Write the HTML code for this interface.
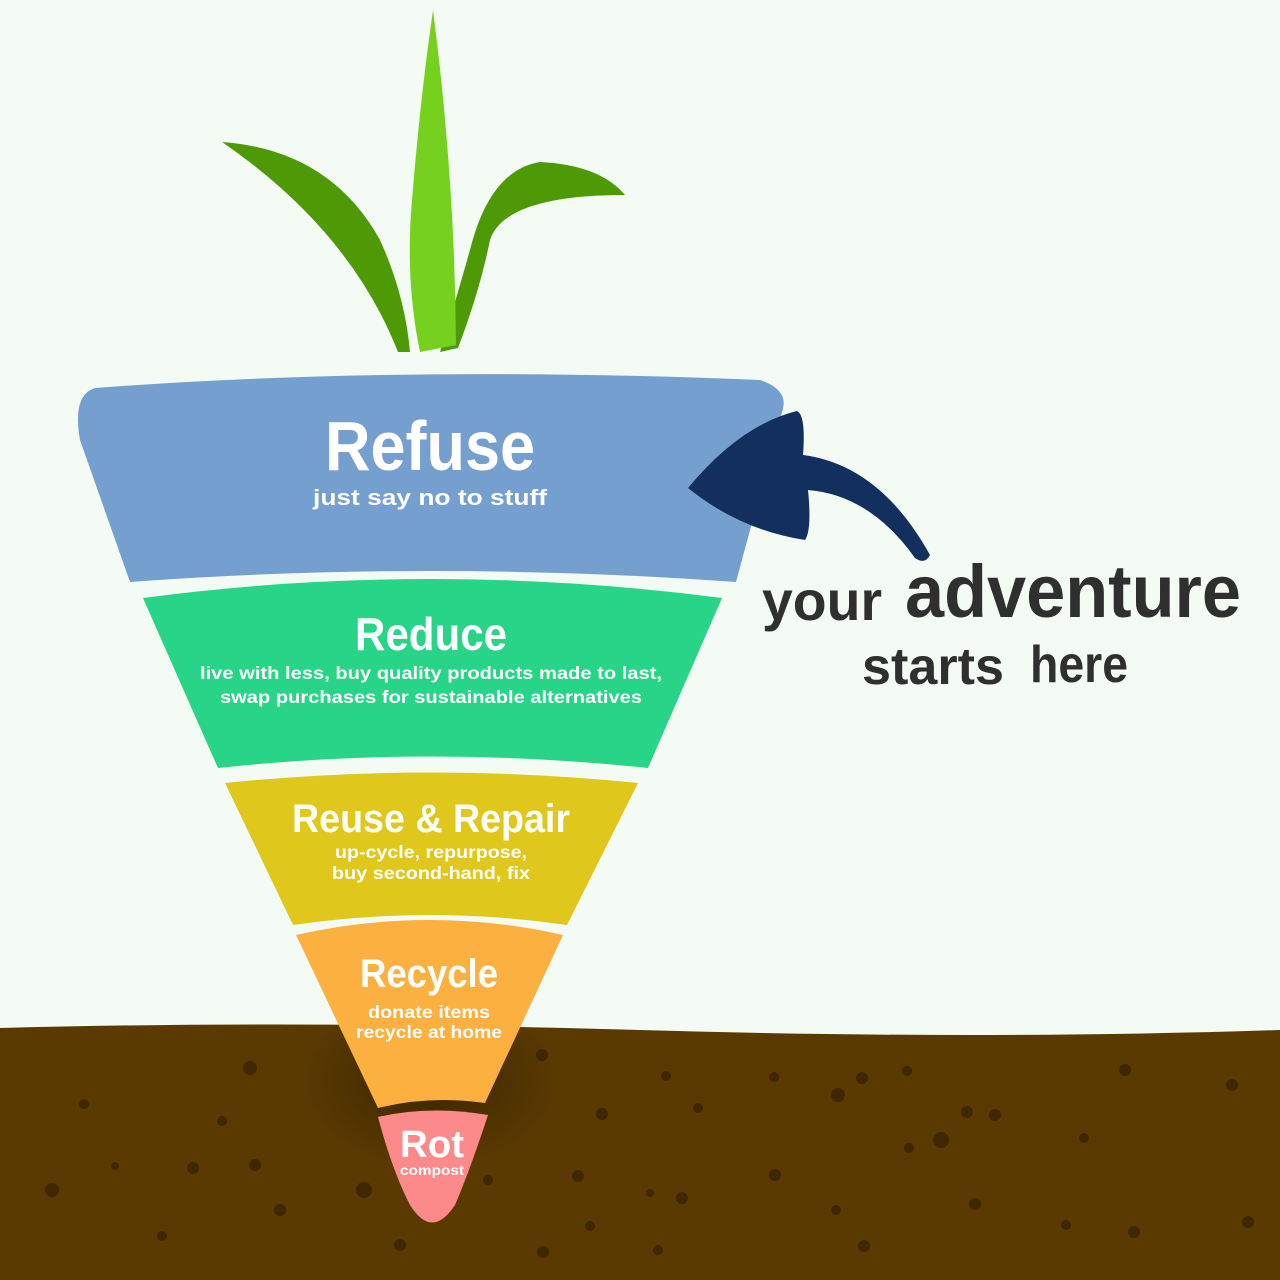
<!DOCTYPE html>
<html><head><style>
html,body{margin:0;padding:0;width:1280px;height:1280px;overflow:hidden;background:#f3fbf4}
svg{display:block}
.t{font-family:"Liberation Sans",sans-serif;fill:#fff;font-weight:bold;text-anchor:middle}
.h{font-family:"Liberation Sans",sans-serif;fill:#2f2f2f;font-weight:bold}
</style></head><body>
<svg width="1280" height="1280" viewBox="0 0 1280 1280">
<defs>
<radialGradient id="sh" cx="0.5" cy="0.5" r="0.5"><stop offset="0" stop-color="#000" stop-opacity="0.35"/><stop offset="1" stop-color="#000" stop-opacity="0"/></radialGradient>
</defs>
<rect width="1280" height="1280" fill="#f3fbf4"/>
<path d="M0 1028 Q300 1020 640 1030 T1280 1030 V1280 H0Z" fill="#5b3a02"/>
<ellipse cx="430" cy="1080" rx="130" ry="90" fill="url(#sh)"/>
<g fill="#3f2701">
<circle cx="250" cy="1068" r="7"/><circle cx="84" cy="1104" r="5"/><circle cx="222" cy="1121" r="5"/><circle cx="193" cy="1168" r="6"/><circle cx="255" cy="1165" r="6"/><circle cx="52" cy="1190" r="7"/><circle cx="162" cy="1236" r="5"/><circle cx="280" cy="1210" r="6"/><circle cx="364" cy="1190" r="8"/><circle cx="400" cy="1245" r="6"/><circle cx="542" cy="1055" r="6"/><circle cx="666" cy="1076" r="5"/><circle cx="602" cy="1114" r="6"/><circle cx="698" cy="1108" r="5"/><circle cx="774" cy="1077" r="5"/><circle cx="838" cy="1095" r="7"/><circle cx="862" cy="1078" r="6"/><circle cx="907" cy="1071" r="5"/><circle cx="941" cy="1140" r="8"/><circle cx="967" cy="1112" r="6"/><circle cx="995" cy="1115" r="6"/><circle cx="1084" cy="1138" r="5"/><circle cx="1125" cy="1070" r="6"/><circle cx="1232" cy="1085" r="6"/><circle cx="1248" cy="1222" r="6"/><circle cx="1134" cy="1232" r="6"/><circle cx="1066" cy="1225" r="5"/><circle cx="975" cy="1204" r="6"/><circle cx="909" cy="1148" r="5"/><circle cx="836" cy="1210" r="5"/><circle cx="775" cy="1175" r="6"/><circle cx="682" cy="1198" r="6"/><circle cx="650" cy="1193" r="4"/><circle cx="578" cy="1176" r="6"/><circle cx="590" cy="1226" r="5"/><circle cx="543" cy="1252" r="6"/><circle cx="658" cy="1250" r="5"/><circle cx="864" cy="1246" r="6"/><circle cx="488" cy="1180" r="5"/><circle cx="115" cy="1166" r="4"/>
</g>
<path d="M222 142 Q330 150 380 240 Q405 295 410 352 L398 352 Q350 230 222 142Z" fill="#4e9a06"/>
<path d="M625 195 Q600 165 540 162 Q490 170 470 250 Q450 320 440 352 L458 348 Q480 290 490 240 Q505 195 625 195Z" fill="#4e9a06"/>
<path d="M433 10 Q455 180 456 345 L420 352 Q405 280 412 200 Q420 100 433 10Z" fill="#76d11e"/>
<path d="M95 388 Q400 365 760 380 Q790 390 782 412 L736 582 Q430 560 130 582 L80 440 Q72 395 95 388Z" fill="#759fcf"/>
<path d="M143 598 Q430 560 722 598 L648 768 Q430 745 218 768Z" fill="#27d488"/>
<path d="M225 783 Q430 762 638 783 L567 925 Q430 905 293 925Z" fill="#dfc81b"/>
<path d="M296 935 Q430 905 563 935 L485 1103 Q430 1095 378 1108Z" fill="#fbb040"/>
<path d="M378 1117 Q430 1105 488 1115 Q470 1170 455 1205 Q432 1240 410 1205 Q392 1170 378 1117Z" fill="#fd8a8a"/>
<text class="t" x="430" y="470" font-size="70" textLength="210" lengthAdjust="spacingAndGlyphs">Refuse</text>
<text class="t" x="430" y="505" font-size="22" textLength="234" lengthAdjust="spacingAndGlyphs">just say no to stuff</text>
<text class="t" x="431" y="650" font-size="46" textLength="152" lengthAdjust="spacingAndGlyphs">Reduce</text>
<text class="t" x="431" y="679" font-size="17.5" textLength="462" lengthAdjust="spacingAndGlyphs">live with less, buy quality products made to last,</text>
<text class="t" x="431" y="703" font-size="17.5" textLength="422" lengthAdjust="spacingAndGlyphs">swap purchases for sustainable alternatives</text>
<text class="t" x="431" y="832" font-size="40" textLength="278" lengthAdjust="spacingAndGlyphs">Reuse &amp; Repair</text>
<text class="t" x="431" y="858" font-size="17.5" textLength="192" lengthAdjust="spacingAndGlyphs">up-cycle, repurpose,</text>
<text class="t" x="431" y="879" font-size="17.5" textLength="198" lengthAdjust="spacingAndGlyphs">buy second-hand, fix</text>
<text class="t" x="429" y="987" font-size="40" textLength="138" lengthAdjust="spacingAndGlyphs">Recycle</text>
<text class="t" x="429" y="1018" font-size="17.5" textLength="122" lengthAdjust="spacingAndGlyphs">donate items</text>
<text class="t" x="429" y="1038" font-size="17.5" textLength="146" lengthAdjust="spacingAndGlyphs">recycle at home</text>
<text class="t" x="432" y="1157" font-size="38" textLength="64" lengthAdjust="spacingAndGlyphs">Rot</text>
<text class="t" x="432" y="1175" font-size="14" textLength="64" lengthAdjust="spacingAndGlyphs">compost</text>
<path d="M688 488 Q740 425 797 411 Q806 415 803 455 Q880 465 930 555 Q925 565 915 558 Q870 495 808 490 Q812 530 805 540 Q740 530 688 488Z" fill="#132f5e"/>
<text class="h" x="762" y="620" font-size="56" font-weight="normal" textLength="120" lengthAdjust="spacingAndGlyphs">your</text>
<text class="h" x="905" y="617" font-size="74" textLength="336" lengthAdjust="spacingAndGlyphs">adventure</text>
<text class="h" x="862" y="684" font-size="52" textLength="142" lengthAdjust="spacingAndGlyphs">starts</text>
<text class="h" x="1030" y="682" font-size="52" textLength="98" lengthAdjust="spacingAndGlyphs">here</text>
</svg>
</body></html>
